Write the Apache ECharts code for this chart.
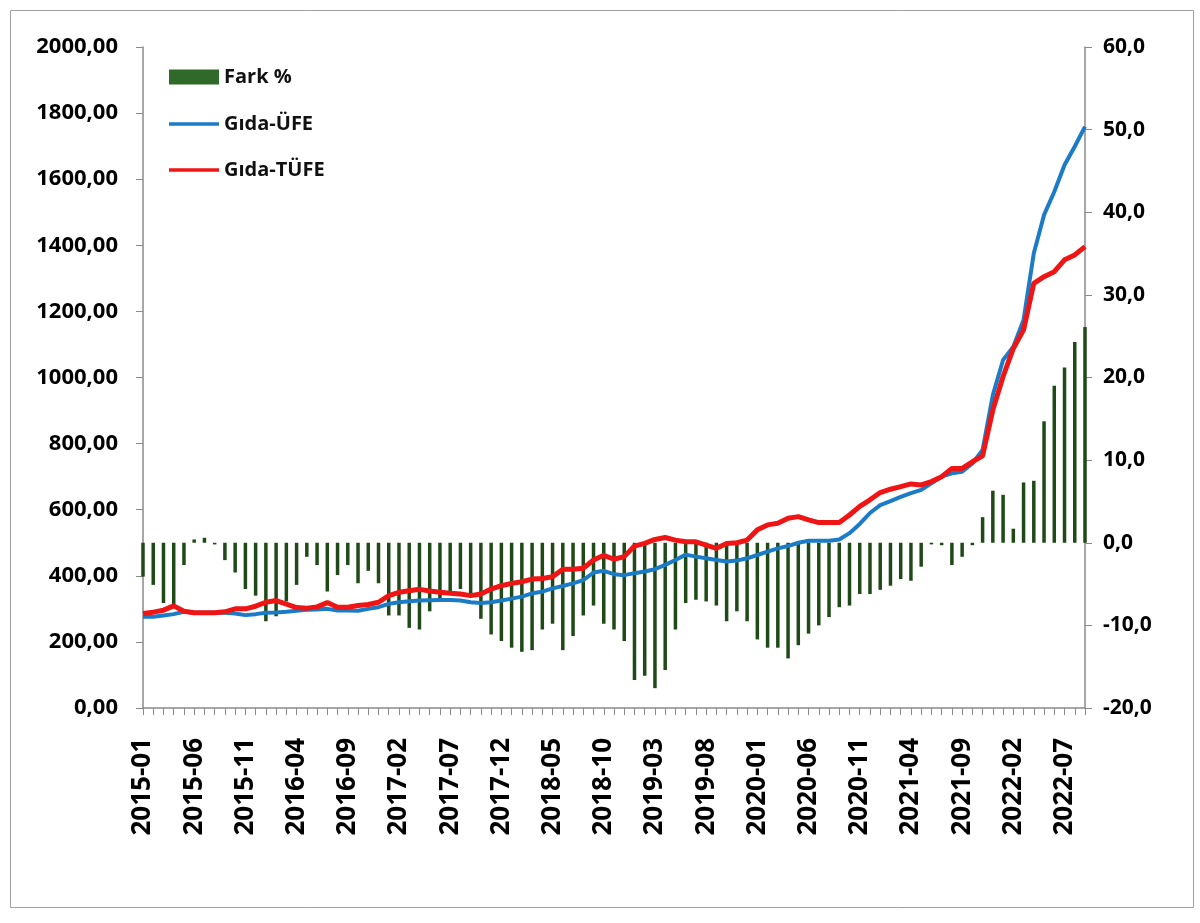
<!DOCTYPE html>
<html>
<head>
<meta charset="utf-8">
<script src="https://cdn.jsdelivr.net/npm/echarts@6/dist/echarts.min.js"></script>
<style>
html,body{margin:0;padding:0;background:#fff;}
#c{width:1200px;height:923px;}
</style>
</head>
<body>
<div id="c"></div>
<script>
// Monthly categories 2015-01 .. 2022-09
const startYear = 2015;
const monthCount = 93;
const categories = [];
for (let k = 0; k < monthCount; k++) {
  const y = startYear + Math.floor(k / 12);
  const m = (k % 12) + 1;
  categories.push(y + '-' + (m < 10 ? '0' + m : m));
}

const farkPct = [
  -4.1, -5.1, -7.3, -7.6, -2.7, 0.4, 0.6, -0.2, -2.1, -3.6, -5.6, -6.4,
  -9.5, -8.9, -7.1, -5.1, -1.7, -2.7, -5.9, -3.9, -2.7, -4.9, -3.4, -4.9,
  -8.8, -8.8, -10.3, -10.5, -8.3, -7.1, -6.3, -5.6, -6.4, -9.2, -11.1, -11.9,
  -12.7, -13.2, -13.0, -10.5, -9.8, -13.0, -11.3, -8.8, -7.6, -9.8, -10.5, -11.9,
  -16.6, -16.1, -17.6, -15.4, -10.5, -7.3, -6.9, -7.1, -7.6, -9.5, -8.3, -9.5,
  -11.7, -12.7, -12.7, -14.0, -12.4, -11.0, -10.0, -9.0, -7.8, -7.6, -6.2, -6.2,
  -5.7, -5.2, -4.4, -4.6, -2.9, -0.2, -0.3, -2.7, -1.7, -0.3, 3.1, 6.3,
  5.8, 1.7, 7.3, 7.5, 14.7, 19.0, 21.2, 24.3, 26.1
];

const gidaUFE = [
  276, 276, 280, 284, 291, 288, 288, 288, 288, 286, 281, 284,
  288, 289, 291, 294, 297, 298, 300, 295, 295, 294, 300, 305,
  315, 320, 323, 325, 326, 327, 327, 325, 320, 318, 320, 325,
  331, 337, 347, 352, 362, 369, 377, 387, 410, 415, 405, 402,
  408, 413, 420, 433, 448, 464, 458, 453, 448, 443, 446, 453,
  463, 473, 483, 490, 500, 506, 506, 506, 510, 529, 557, 590,
  614, 626, 639, 650, 660, 680, 700, 710, 715, 740, 781, 947,
  1053, 1093, 1174, 1376, 1492, 1562, 1643, 1699, 1759
];

const gidaTUFE = [
  286, 290, 296, 309, 293, 288, 288, 288, 291, 300, 300, 308,
  320, 325, 314, 304, 302, 306, 319, 305, 305, 310, 313, 320,
  340, 350, 355, 359, 354, 350, 347, 345, 340, 345, 360, 370,
  377, 382, 390, 392, 397, 420, 420, 423, 448, 462, 450, 458,
  490, 498, 510, 516, 508, 503, 503, 493, 483, 498, 500, 508,
  539, 554, 559, 574, 579, 569, 561, 561, 561, 584, 610, 630,
  652, 662, 670, 678, 675, 685, 700, 725, 725, 745, 763, 902,
  1003, 1088, 1144, 1285, 1305, 1320, 1356, 1371, 1396
];

const FONT = 'Open Sans';
const legendText = { fontFamily: FONT, fontWeight: 'bold', fontSize: 20, color: '#111' };
const chart = echarts.init(document.getElementById('c'));
chart.setOption({
  backgroundColor: '#ffffff',
  animation: false,
  textStyle: { fontFamily: FONT },
  graphic: [{
    type: 'rect', left: 8, top: 8, z: -10,
    shape: { width: 1183, height: 897 },
    style: { fill: 'none', stroke: '#a0a0a0', lineWidth: 1 }
  }],
  legend: [{
    orient: 'vertical', left: 164, top: 62,
    itemWidth: 50, itemHeight: 15, itemGap: 8,
    textStyle: legendText,
    data: [{ name: 'Fark %', icon: 'rect', itemStyle: { color: '#2f6a2b' } }]
  }, {
    orient: 'vertical', left: 164, top: 109,
    itemWidth: 50, itemHeight: 3.5, itemGap: 26,
    textStyle: legendText,
    data: [
      { name: 'Gıda-ÜFE', icon: 'rect' },
      { name: 'Gıda-TÜFE', icon: 'rect' }
    ]
  }],
  grid: { left: 143, right: 115, top: 47, bottom: 215 },
  xAxis: {
    type: 'category', data: categories, boundaryGap: false,
    axisLine: { lineStyle: { color: '#8a8a8a', width: 1.5 } },
    axisTick: { show: true, interval: 0, length: 7, lineStyle: { color: '#8a8a8a' } },
    axisLabel: {
      interval: 4, rotate: 90, margin: 30,
      fontFamily: FONT, fontWeight: 'bold', fontSize: 26, color: '#000'
    },
    splitLine: { show: false }
  },
  yAxis: [{
    type: 'value', min: 0, max: 2000, interval: 200, position: 'left',
    axisLine: { show: true, lineStyle: { color: '#8a8a8a', width: 1.5 } },
    axisTick: { show: true, length: 7, lineStyle: { color: '#8a8a8a' } },
    axisLabel: {
      margin: 25, fontFamily: FONT, fontWeight: 'bold', fontSize: 22, color: '#000',
      formatter: v => v.toFixed(2).replace('.', ',')
    },
    splitLine: { show: false }
  }, {
    type: 'value', min: -20, max: 60, interval: 10, position: 'right',
    axisLine: { show: true, lineStyle: { color: '#8a8a8a', width: 1.5 } },
    axisTick: { show: true, length: 7, lineStyle: { color: '#8a8a8a' } },
    axisLabel: {
      margin: 18, fontFamily: FONT, fontWeight: 'bold', fontSize: 21, color: '#000',
      formatter: v => v.toFixed(1).replace('.', ',')
    },
    splitLine: { show: false }
  }],
  series: [{
    name: 'Fark %', type: 'bar', yAxisIndex: 1, data: farkPct,
    barWidth: 3.5, z: 1,
    itemStyle: { color: '#1f4a17' }
  }, {
    name: 'Gıda-ÜFE', type: 'line', yAxisIndex: 0, data: gidaUFE,
    symbol: 'none', z: 3,
    lineStyle: { color: '#1b7bc6', width: 4 },
    itemStyle: { color: '#1b7bc6' }
  }, {
    name: 'Gıda-TÜFE', type: 'line', yAxisIndex: 0, data: gidaTUFE,
    symbol: 'none', z: 4,
    lineStyle: { color: '#f01515', width: 5 },
    itemStyle: { color: '#f01515' }
  }]
});
</script>
</body>
</html>
